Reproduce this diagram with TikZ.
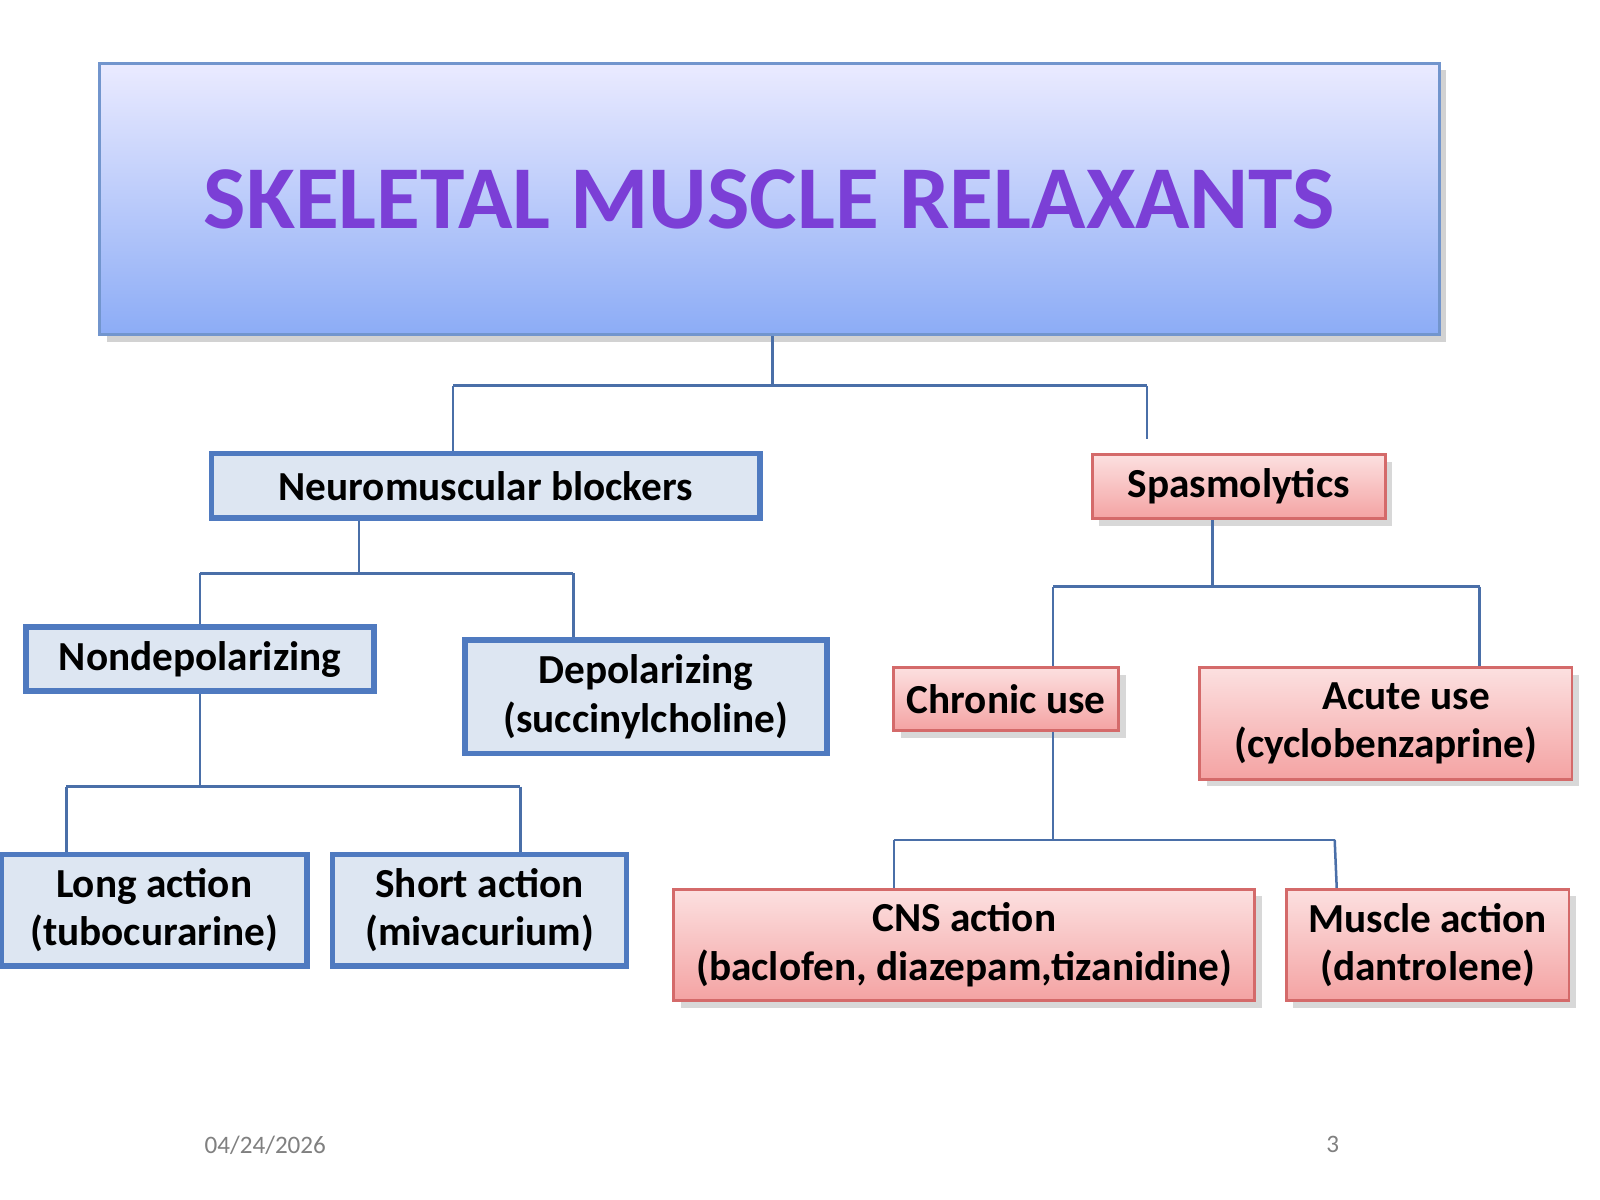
\documentclass[tikz,border=0pt]{standalone}
\usepackage{fontspec}
\setmainfont{Carlito}
\usetikzlibrary{shadows}
\definecolor{bbord}{HTML}{4F7AC0}
\definecolor{bfill}{HTML}{DDE6F2}
\definecolor{rbord}{HTML}{D46A6A}
\definecolor{rtop}{HTML}{FCE0E0}
\definecolor{rbot}{HTML}{F4A3A3}
\definecolor{ttl}{HTML}{7B3FD6}
\definecolor{lne}{HTML}{4A6FA8}
\begin{document}
\begin{tikzpicture}[x=0.01cm,y=-0.01cm,
 bbox/.style={draw=bbord,line width=1.6pt,fill=bfill,font=\bfseries\fontsize{11.5}{13.5}\selectfont,align=center,inner sep=0pt},
 rbox/.style={draw=rbord,line width=0.8pt,top color=rtop,bottom color=rbot,drop shadow={shadow xshift=2pt,shadow yshift=-2pt,opacity=0.3},font=\bfseries\fontsize{11.5}{13.5}\selectfont,align=center,inner sep=0pt},
 ln/.style={draw=lne,line width=0.7pt}]
\useasboundingbox (0,0) rectangle (1568,1176);
\fill[white] (0,0) rectangle (1568,1176);
\node[draw=bbord!80,line width=0.8pt,top color=blue!8,bottom color={rgb,255:red,140;green,172;blue,246},drop shadow={shadow xshift=2pt,shadow yshift=-2pt,opacity=0.35},minimum width=13.12cm,minimum height=2.66cm,inner sep=0pt,font=\bfseries\fontsize{25}{28}\selectfont,text=ttl] (title) at (754,195) {SKELETAL MUSCLE RELAXANTS};
\node[bbox,minimum width=5.37cm,minimum height=0.63cm] (nmb) at (476,476) {Neuromuscular blockers};
\node[rbox,minimum width=2.87cm,minimum height=0.63cm] (sp) at (1214,477) {Spasmolytics};
\node[bbox,minimum width=3.41cm,minimum height=0.63cm] (nd) at (196,646) {Nondepolarizing};
\node[bbox,minimum width=3.54cm,minimum height=1.11cm] (dp) at (633,683) {Depolarizing\\(succinylcholine)};
\node[rbox,minimum width=2.2cm,minimum height=0.62cm] (ch) at (986,685) {Chronic use};
\node[rbox,minimum width=3.65cm,minimum height=1.09cm] (ac) at (1358,709) {\hspace*{1em}Acute use\\(cyclobenzaprine)};
\node[bbox,minimum width=2.99cm,minimum height=1.09cm] (la) at (151,892) {Long action\\(tubocurarine)};
\node[bbox,minimum width=2.88cm,minimum height=1.09cm] (sa) at (470,892) {Short action\\(mivacurium)};
\node[rbox,minimum width=5.69cm,minimum height=1.09cm] (cns) at (945,926) {CNS action\\(baclofen, diazepam,tizanidine)};
\node[rbox,minimum width=2.77cm,minimum height=1.09cm] (mu) at (1399,926) {Muscle action\\(dantrolene)};
\coordinate (j1) at (757,378);
\coordinate (j2) at (352,562);
\coordinate (j3) at (196,771);
\coordinate (j4) at (1188,575);
\coordinate (j5) at (1032,823);
\draw[ln] (title.south -| j1) -- (j1) (444,378) -- (1124,378);
\draw[ln] (444,378) -- (444,0 |- nmb.north);
\draw[ln] (1124,378) -- (1124,430);
\draw[ln] (nmb.south -| j2) -- (j2) (196,562) -- (562,562);
\draw[ln] (196,562) -- (196,0 |- nd.north);
\draw[ln] (562,562) -- (562,0 |- dp.north);
\draw[ln] (nd.south -| j3) -- (j3) (65,771) -- (510,771);
\draw[ln] (65,771) -- (65,0 |- la.north);
\draw[ln] (510,771) -- (510,0 |- sa.north);
\draw[ln] (sp.south -| j4) -- (j4) (1032,575) -- (1450,575);
\draw[ln] (1032,575) -- (1032,0 |- ch.north);
\draw[ln] (1450,575) -- (1450,0 |- ac.north);
\draw[ln] (ch.south -| j5) -- (j5) (876,823) -- (1308,823);
\draw[ln] (876,823) -- (876,0 |- cns.north);
\draw[ln] (1308,823) -- (1310,0 |- mu.north);
\node[text=gray,font=\fontsize{7}{8}\selectfont] (date) at (260,1122) {04/24/2026};
\node[text=gray,font=\fontsize{7}{8}\selectfont] (pg) at (1306,1122) {3};
\end{tikzpicture}
\end{document}
